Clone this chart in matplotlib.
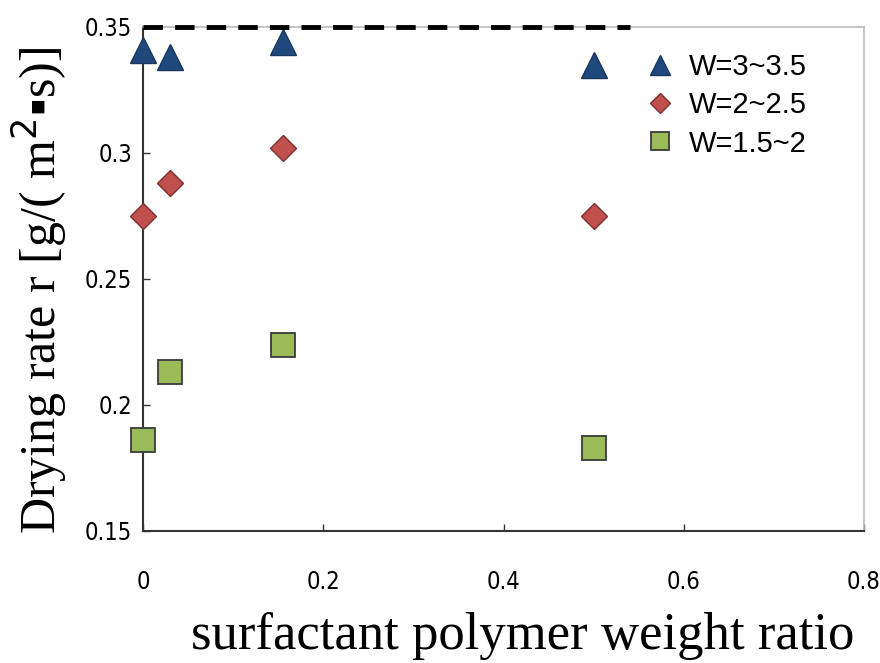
import matplotlib.pyplot as plt
from matplotlib import font_manager

# data
ratio = [0.0, 0.03, 0.155, 0.5]
w_high = [0.341, 0.338, 0.344, 0.335]   # W=3~3.5
w_mid = [0.275, 0.288, 0.302, 0.275]    # W=2~2.5
w_low = [0.186, 0.213, 0.224, 0.183]    # W=1.5~2
limit_x = [0.0, 0.54]
limit_y = [0.35, 0.35]

xticks = [0, 0.2, 0.4, 0.6, 0.8]
yticks = [0.15, 0.2, 0.25, 0.3, 0.35]

# narrow (not bold) font for the tick numbers, if one is there
narrow = None
for f in font_manager.fontManager.ttflist:
    condensed = 'Narrow' in f.name or 'Condensed' in f.name or f.stretch in ('condensed', 'semi-condensed')
    if condensed and f.weight in (400, 'normal', 'regular') and f.style == 'normal':
        narrow = f
        break
if narrow:
    tick_font = font_manager.FontProperties(fname=narrow.fname)
else:
    tick_font = font_manager.FontProperties(family='Liberation Sans')

fig = plt.figure(figsize=(8.8, 6.63), dpi=100)
ax = fig.add_axes([143/880, 1 - 531/663, (864-143)/880, (531-27)/663])

ax.plot(ratio, w_high, ls='none', marker='^', ms=19, mfc='#1F497D', mec='#17375E', mew=1,
        label='W=3~3.5', clip_on=False, zorder=3)
ax.plot(ratio, w_mid, ls='none', marker='D', ms=13, mfc='#C0504D', mec='#7F2F2D', mew=1,
        label='W=2~2.5', clip_on=False, zorder=3)
ax.plot(ratio, w_low, ls='none', marker='s', ms=17, mfc='#9BBB59', mec='#3A3A3A', mew=1.3,
        label='W=1.5~2', clip_on=False, zorder=3)
ax.plot(limit_x, limit_y, color='black', lw=3.5, ls=(0, (4, 2.5)), zorder=5, clip_on=False)

ax.set_xlim(0, 0.8)
ax.set_ylim(0.15, 0.35)
ax.set_xticks(xticks)
ax.set_xticklabels(['0', '0.2', '0.4', '0.6', '0.8'])
ax.set_yticks(yticks)
ax.set_yticklabels(['0.15', '0.2', '0.25', '0.3', '0.35'])

for s in ['left', 'bottom']:
    ax.spines[s].set_color('#333333')
    ax.spines[s].set_linewidth(1.5)
for s in ['top', 'right']:
    ax.spines[s].set_color('#bbbbbb')
    ax.spines[s].set_linewidth(1.2)

ax.tick_params(axis='both', direction='in', length=5, color='#333333', width=1,
               top=False, right=False)
ax.tick_params(axis='x', pad=28)
ax.tick_params(axis='y', pad=8)
for lab in ax.get_xticklabels() + ax.get_yticklabels():
    lab.set_fontproperties(tick_font)
    lab.set_fontsize(17)

ax.set_xlabel('surfactant polymer weight ratio', family='Liberation Serif', fontsize=38)
ax.xaxis.set_label_coords(0.527, -0.16)
ax.set_ylabel('Drying rate r [g/( m$^2$\u25aas)]', family=['Liberation Serif', 'DejaVu Sans'],
              fontsize=36)
ax.yaxis.set_label_coords(-0.103, 0.478)

leg = ax.legend(loc='upper left', bbox_to_anchor=(0.66, 1.0), frameon=False, markerscale=0.75,
                prop={'family': 'Liberation Sans', 'size': 21}, handletextpad=0.5,
                labelspacing=0.35, handlelength=1.0, borderaxespad=0.5)

fig.savefig('out.png', dpi=100)
